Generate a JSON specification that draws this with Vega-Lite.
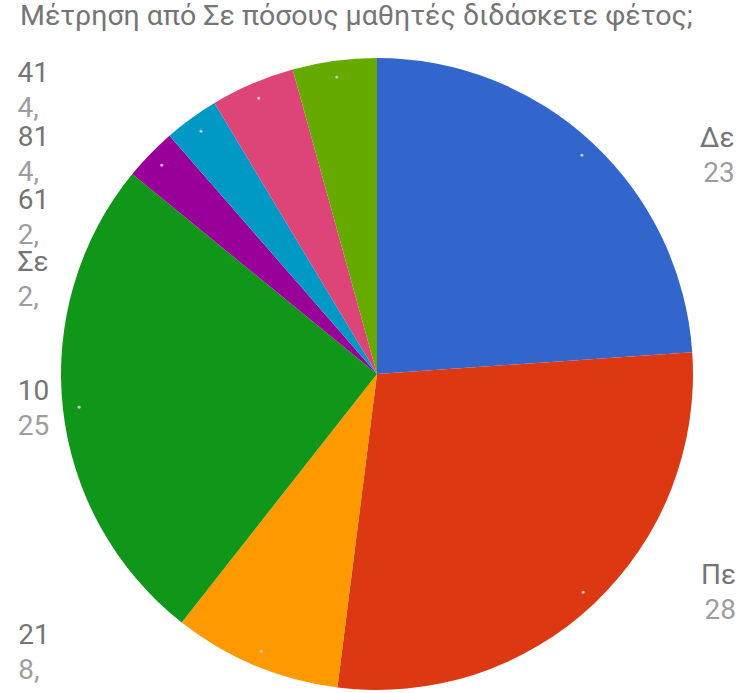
{
  "$schema": "https://vega.github.io/schema/vega-lite/v6.json",
  "width": 714,
  "height": 632,
  "autosize": "none",
  "padding": {"left": 20, "top": 58, "right": 11, "bottom": 3},
  "background": "white",
  "config": {"view": {"stroke": null}},
  "title": {
    "text": "Μέτρηση από Σε πόσους μαθητές διδάσκετε φέτος;",
    "anchor": "start",
    "frame": "group",
    "align": "left",
    "font": "Roboto",
    "fontSize": 28.5,
    "fontWeight": "normal",
    "color": "#757575",
    "offset": 16
  },
  "data": {
    "values": [
      {"k": 1, "name": "Δε", "value": 23.9, "label": "23"},
      {"k": 2, "name": "Πε", "value": 28.1, "label": "28"},
      {"k": 3, "name": "21", "value": 8.6, "label": "8,"},
      {"k": 4, "name": "10", "value": 25.3, "label": "25"},
      {"k": 5, "name": "Σε", "value": 2.7, "label": "2,"},
      {"k": 6, "name": "61", "value": 2.8, "label": "2,"},
      {"k": 7, "name": "81", "value": 4.3, "label": "4,"},
      {"k": 8, "name": "41", "value": 4.3, "label": "4,"}
    ]
  },
  "encoding": {
    "theta": {"field": "value", "type": "quantitative", "stack": true},
    "order": {"field": "k", "type": "quantitative"}
  },
  "layer": [
    {
      "mark": {"type": "arc", "outerRadius": 316},
      "encoding": {
        "color": {
          "field": "name",
          "type": "nominal",
          "scale": {
            "domain": ["Δε", "Πε", "21", "10", "Σε", "61", "81", "41"],
            "range": ["#3366CC", "#DC3912", "#FF9900", "#109618", "#990099", "#0099C6", "#DD4477", "#66AA00"]
          },
          "legend": null
        }
      }
    },
    {
      "mark": {"type": "text", "radius": 300, "text": "●", "fontSize": 7, "color": "#c8c8c8", "baseline": "middle", "align": "center"}
    },
    {
      "mark": {"type": "text", "radius": 300, "align": "right", "baseline": "alphabetic", "dx": 153, "dy": -8, "font": "Roboto", "fontSize": 28, "color": "#757575"},
      "encoding": {"text": {"condition": {"test": "datum.name == 'Δε' || datum.name == 'Πε'", "field": "name"}, "value": ""}}
    },
    {
      "mark": {"type": "text", "radius": 300, "align": "right", "baseline": "alphabetic", "dx": 153, "dy": 27, "font": "Roboto", "fontSize": 28, "color": "#9e9e9e"},
      "encoding": {"text": {"condition": {"test": "datum.name == 'Δε' || datum.name == 'Πε'", "field": "label"}, "value": ""}}
    },
    {
      "mark": {"type": "text", "radius": 300, "align": "left", "baseline": "alphabetic", "dx": -61, "dy": -7, "font": "Roboto", "fontSize": 28, "color": "#757575"},
      "encoding": {"text": {"condition": {"test": "datum.name == '10'", "field": "name"}, "value": ""}}
    },
    {
      "mark": {"type": "text", "radius": 300, "align": "left", "baseline": "alphabetic", "dx": -61, "dy": 28, "font": "Roboto", "fontSize": 28, "color": "#9e9e9e"},
      "encoding": {"text": {"condition": {"test": "datum.name == '10'", "field": "label"}, "value": ""}}
    },
    {
      "mark": {"type": "text", "radius": 300, "align": "left", "baseline": "alphabetic", "dx": -243, "dy": -7, "font": "Roboto", "fontSize": 28, "color": "#757575"},
      "encoding": {"text": {"condition": {"test": "datum.name == '21'", "field": "name"}, "value": ""}}
    },
    {
      "mark": {"type": "text", "radius": 300, "align": "left", "baseline": "alphabetic", "dx": -243, "dy": 28, "font": "Roboto", "fontSize": 28, "color": "#9e9e9e"},
      "encoding": {"text": {"condition": {"test": "datum.name == '21'", "field": "label"}, "value": ""}}
    },
    {
      "mark": {"type": "text", "radius": 300, "align": "left", "baseline": "alphabetic", "dx": -144, "dy": 106, "font": "Roboto", "fontSize": 28, "color": "#757575"},
      "encoding": {"text": {"condition": {"test": "datum.name == 'Σε'", "field": "name"}, "value": ""}}
    },
    {
      "mark": {"type": "text", "radius": 300, "align": "left", "baseline": "alphabetic", "dx": -144, "dy": 141, "font": "Roboto", "fontSize": 28, "color": "#9e9e9e"},
      "encoding": {"text": {"condition": {"test": "datum.name == 'Σε'", "field": "label"}, "value": ""}}
    },
    {
      "mark": {"type": "text", "radius": 300, "align": "left", "baseline": "alphabetic", "dx": -183, "dy": 78, "font": "Roboto", "fontSize": 28, "color": "#757575"},
      "encoding": {"text": {"condition": {"test": "datum.name == '61'", "field": "name"}, "value": ""}}
    },
    {
      "mark": {"type": "text", "radius": 300, "align": "left", "baseline": "alphabetic", "dx": -183, "dy": 113, "font": "Roboto", "fontSize": 28, "color": "#9e9e9e"},
      "encoding": {"text": {"condition": {"test": "datum.name == '61'", "field": "label"}, "value": ""}}
    },
    {
      "mark": {"type": "text", "radius": 300, "align": "left", "baseline": "alphabetic", "dx": -241, "dy": 48, "font": "Roboto", "fontSize": 28, "color": "#757575"},
      "encoding": {"text": {"condition": {"test": "datum.name == '81'", "field": "name"}, "value": ""}}
    },
    {
      "mark": {"type": "text", "radius": 300, "align": "left", "baseline": "alphabetic", "dx": -241, "dy": 83, "font": "Roboto", "fontSize": 28, "color": "#9e9e9e"},
      "encoding": {"text": {"condition": {"test": "datum.name == '81'", "field": "label"}, "value": ""}}
    },
    {
      "mark": {"type": "text", "radius": 300, "align": "left", "baseline": "alphabetic", "dx": -319, "dy": 5, "font": "Roboto", "fontSize": 28, "color": "#757575"},
      "encoding": {"text": {"condition": {"test": "datum.name == '41'", "field": "name"}, "value": ""}}
    },
    {
      "mark": {"type": "text", "radius": 300, "align": "left", "baseline": "alphabetic", "dx": -319, "dy": 40, "font": "Roboto", "fontSize": 28, "color": "#9e9e9e"},
      "encoding": {"text": {"condition": {"test": "datum.name == '41'", "field": "label"}, "value": ""}}
    }
  ]
}
